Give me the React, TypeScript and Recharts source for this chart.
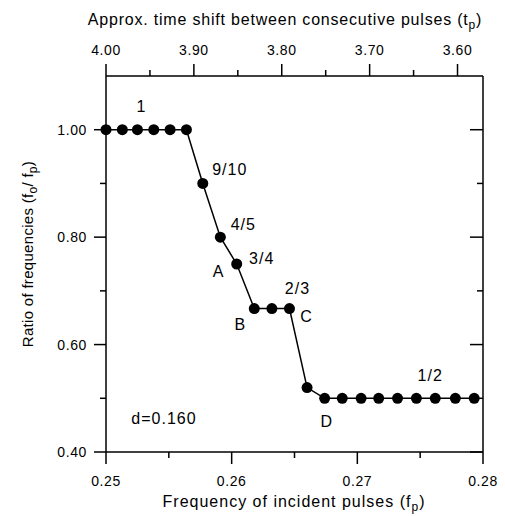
import React from 'react';
import { LineChart, Line, XAxis, YAxis, ReferenceDot, Customized } from 'recharts';

// Frequency of incident pulses (fp)
const fpValues = [
  0.25, 0.2513, 0.2525, 0.2538, 0.2551, 0.2564, 0.2577, 0.2591, 0.2604, 0.2618, 0.2632,
  0.2646, 0.266, 0.2674, 0.2688, 0.2703, 0.2717, 0.2732, 0.2747, 0.2762, 0.2778, 0.2793,
];
// Ratio of frequencies (fo/fp)
const ratioValues = [
  1, 1, 1, 1, 1, 1, 0.9, 0.8, 0.75, 0.667, 0.667, 0.667, 0.52, 0.5, 0.5, 0.5, 0.5, 0.5,
  0.5, 0.5, 0.5, 0.5,
];

const xTicks = [0.25, 0.255, 0.26, 0.265, 0.27, 0.275, 0.28];
const xMajorTicks = [0.25, 0.26, 0.27, 0.28];
const yTicks = [0.4, 0.5, 0.6, 0.7, 0.8, 0.9, 1.0];
const yMajorTicks = [0.4, 0.6, 0.8, 1.0];
// Top axis: approx. time shift (tp), linear in tp across the frame
const tpTicks = [4.0, 3.95, 3.9, 3.85, 3.8, 3.75, 3.7, 3.65, 3.6];
const tpMajorTicks = [4.0, 3.9, 3.8, 3.7, 3.6];
const tpAtLeft = 4.0;
const tpAtRight = 3.571;

const annotationLabels = ['1', '9/10', '4/5', '3/4', 'A', 'B', '2/3', 'C', 'D', '1/2'];
const annotationPointIndex = [2, 6, 7, 8, 8, 9, 11, 11, 13, 19];
const noteText = 'd=0.160';

// layout (pixel offsets of annotation text from its point)
const annotationOffsets: [number, number][] = [
  [4, -23], [27, -14], [23, -13], [25, -6], [-18, 7], [-14, 16], [8, -20], [17, 8], [2, 23], [-5, -23],
];

const FONT = '"Liberation Sans", Arial, Helvetica, sans-serif';
const TICK_FS = 14;
const TICK_LS = 0.6;

const X_MIN = 0.25;
const X_MAX = 0.28;

const data = fpValues.map((fp, i) => ({ fp, ratio: ratioValues[i] }));

// position of a tp tick on the (linear) top axis, expressed in the frame's fp coordinate
const tpToFrame = (tp: number) => X_MIN + ((tpAtLeft - tp) / (tpAtLeft - tpAtRight)) * (X_MAX - X_MIN);
const topTickPositions = tpTicks.map(tpToFrame);

const isMajor = (v: number, majors: number[]) => majors.some((m) => Math.abs(m - v) < 1e-6);

const BottomTick = (props: any) => {
  const { x, y, payload } = props;
  const major = isMajor(payload.value, xMajorTicks);
  return (
    <g>
      <line x1={x} y1={y} x2={x} y2={y + (major ? 12 : 6)} stroke="#000" strokeWidth={1.5} />
      {major && (
        <text x={x} y={y + 34} textAnchor="middle" fontSize={TICK_FS} letterSpacing={TICK_LS} fontFamily={FONT} fill="#000">
          {payload.value.toFixed(2)}
        </text>
      )}
    </g>
  );
};

const TopTick = (props: any) => {
  const { x, y, payload, index } = props;
  let i = typeof index === 'number' ? index : -1;
  if (i < 0) {
    i = topTickPositions.findIndex((p) => Math.abs(p - payload.value) < 1e-9);
  }
  const tp = tpTicks[i];
  const major = isMajor(tp, tpMajorTicks);
  return (
    <g>
      <line x1={x} y1={y} x2={x} y2={y - (major ? 12 : 6)} stroke="#000" strokeWidth={1.5} />
      {major && (
        <text x={x} y={y - 21} textAnchor="middle" fontSize={TICK_FS} letterSpacing={TICK_LS} fontFamily={FONT} fill="#000">
          {tp.toFixed(2)}
        </text>
      )}
    </g>
  );
};

const LeftTick = (props: any) => {
  const { x, y, payload } = props;
  const major = isMajor(payload.value, yMajorTicks);
  return (
    <g>
      <line x1={x} y1={y} x2={x - (major ? 12 : 6)} y2={y} stroke="#000" strokeWidth={1.5} />
      {major && (
        <text x={x - 19} y={y + 5} textAnchor="end" fontSize={TICK_FS} letterSpacing={TICK_LS} fontFamily={FONT} fill="#000">
          {payload.value.toFixed(2)}
        </text>
      )}
    </g>
  );
};

const RightTick = (props: any) => {
  const { x, y, payload } = props;
  const major = isMajor(payload.value, yMajorTicks);
  return (
    <g>
      <line x1={x} y1={y} x2={x - (major ? 13 : 6)} y2={y} stroke="#000" strokeWidth={1.5} />
    </g>
  );
};

const Titles = () => (
  <g fontFamily={FONT} fill="#000">
    <text x={285} y={25} textAnchor="middle" fontSize={16} letterSpacing={0.8}>
      Approx. time shift between consecutive pulses (t
      <tspan dy={4} fontSize={12}>p</tspan>
      <tspan dy={-4}>)</tspan>
    </text>
    <text x={294} y={507} textAnchor="middle" fontSize={16} letterSpacing={1}>
      Frequency of incident pulses (f
      <tspan dy={4} fontSize={12}>p</tspan>
      <tspan dy={-4}>)</tspan>
    </text>
    <text x={33} y={254} textAnchor="middle" fontSize={15} letterSpacing={0.3} transform="rotate(-90 33 254)">
      Ratio of frequencies (f
      <tspan dy={4} fontSize={12}>o</tspan>
      <tspan dy={-4}>/ f</tspan>
      <tspan dy={4} fontSize={12}>p</tspan>
      <tspan dy={-4}>)</tspan>
    </text>
    <text x={164} y={424} textAnchor="middle" fontSize={16} letterSpacing={1}>
      {noteText}
    </text>
  </g>
);

const makeAnnot = (text: string, dx: number, dy: number) => (props: any) => {
  const vb = props.viewBox || {};
  const cx = (vb.x ?? 0) + (vb.width ?? 0) / 2;
  const cy = (vb.y ?? 0) + (vb.height ?? 0) / 2;
  return (
    <text x={cx + dx} y={cy + dy} dy="0.36em" textAnchor="middle" fontSize={16} letterSpacing={1} fontFamily={FONT} fill="#000">
      {text}
    </text>
  );
};

export default function App() {
  return (
    <div style={{ position: 'absolute', left: 0, top: 0, background: '#fff' }}>
      <LineChart width={505} height={516} data={data} margin={{ top: 75, right: 21, bottom: 63, left: 105 }}>
        <XAxis
          dataKey="fp"
          type="number"
          domain={[X_MIN, X_MAX]}
          ticks={xTicks}
          interval={0}
          height={1}
          tickSize={0}
          tickMargin={0}
          tickLine={false}
          axisLine={{ stroke: '#000', strokeWidth: 1.5 }}
          tick={<BottomTick />}
        />
        <XAxis
          xAxisId="top"
          dataKey="fp"
          orientation="top"
          type="number"
          domain={[X_MIN, X_MAX]}
          ticks={topTickPositions}
          interval={0}
          height={1}
          tickSize={0}
          tickMargin={0}
          tickLine={false}
          axisLine={{ stroke: '#000', strokeWidth: 1.5 }}
          tick={<TopTick />}
          allowDataOverflow
        />
        <YAxis
          type="number"
          domain={[0.4, 1.1]}
          ticks={yTicks}
          interval={0}
          width={1}
          tickSize={0}
          tickMargin={0}
          tickLine={false}
          axisLine={{ stroke: '#000', strokeWidth: 1.5 }}
          tick={<LeftTick />}
        />
        <YAxis
          yAxisId="right"
          orientation="right"
          type="number"
          domain={[0.4, 1.1]}
          ticks={yTicks}
          interval={0}
          width={1}
          tickSize={0}
          tickMargin={0}
          tickLine={false}
          axisLine={{ stroke: '#000', strokeWidth: 1.5 }}
          tick={<RightTick />}
          allowDataOverflow
        />
        <Line
          type="linear"
          dataKey="ratio"
          stroke="#000"
          strokeWidth={1.5}
          dot={{ r: 5.5, fill: '#000', stroke: 'none' }}
          activeDot={false}
          isAnimationActive={false}
        />
        {annotationLabels.map((t, i) => {
          const idx = annotationPointIndex[i];
          const [dx, dy] = annotationOffsets[i];
          return (
            <ReferenceDot
              key={t + i}
              x={fpValues[idx]}
              y={ratioValues[idx]}
              r={0}
              fill="none"
              stroke="none"
              label={makeAnnot(t, dx, dy)}
            />
          );
        })}
        <Customized component={<Titles />} />
      </LineChart>
    </div>
  );
}
